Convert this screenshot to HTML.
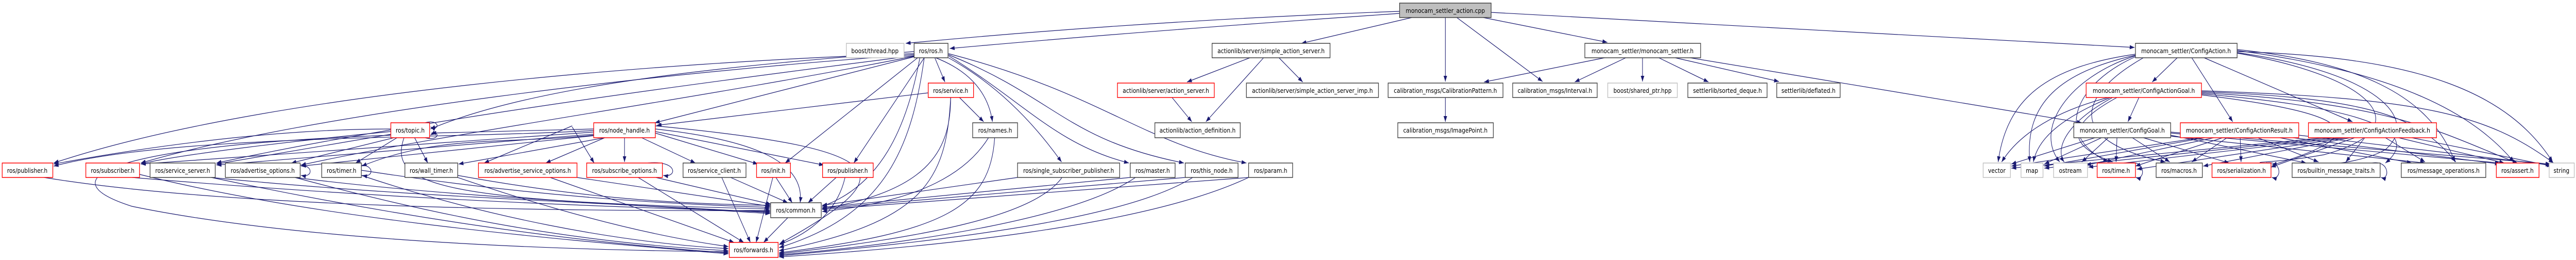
<!DOCTYPE html>
<html><head><meta charset="utf-8">
<meta name="viewport" content="width=5853, initial-scale=1">
<style>
html,body{margin:0;padding:0;background:#fff;width:100%;height:504px;overflow:hidden;}
svg{display:block;width:100vw;height:504px;}
text{font-family:"DejaVu Sans","Liberation Sans",sans-serif;font-size:12.5px;fill:#000;}
.e{fill:none;stroke:#191970;stroke-width:1.2;}
.nb{fill:#fff;stroke:#404040;stroke-width:1.5;}
.nr{fill:#fff;stroke:#ff0000;stroke-width:1.5;}
.ng{fill:#fff;stroke:#bfbfbf;stroke-width:1.5;}
.nm{fill:#bfbfbf;stroke:#404040;stroke-width:1.5;}
</style></head>
<body>
<svg viewBox="0 0 5853 504" preserveAspectRatio="none" xmlns="http://www.w3.org/2000/svg">
<defs>
<marker id="a" markerWidth="11" markerHeight="8" refX="11" refY="4" orient="auto" markerUnits="userSpaceOnUse"><path d="M0,0 L11,4 L0,8z" fill="#191970"/></marker>
</defs>
<g class="e" marker-end="url(#a)">
<path d="M3180,22 Q2600,40 2058,84"/>
<path d="M3180,26 Q2600,60 2158,94"/>
<path d="M3208,34 L2957,84"/>
<path d="M3284,34 L3284,158"/>
<path d="M3310,34 L3505,158"/>
<path d="M3370,34 L3652,82"/>
<path d="M3388,24 L4850,92"/>
<path d="M3646,112 L3372,159"/>
<path d="M3694,112 L3578,159"/>
<path d="M3732,112 L3732,158"/>
<path d="M3769,112 L3882,159"/>
<path d="M3806,112 L4042,158"/>
<path d="M3840,112 L4730,238"/>
<path d="M2840,112 L2697,159"/>
<path d="M2871,112 L2740,236"/>
<path d="M2906,112 L2960,159"/>
<path d="M2663,189 L2708,236"/>
<path d="M3284,189 L3284,236"/>
<path d="M2124,112 L2147,159"/>
<path d="M2126,112 Q2240,150 2255,236"/>
<path d="M2155,112 Q2300,180 2412,314"/>
<path d="M2155,108 C2330,200 2400,280 2565,316"/>
<path d="M2155,106 C2400,190 2420,270 2690,316"/>
<path d="M2155,104 C2500,180 2600,280 2832,316"/>
<path d="M2077,110 L1488,238"/>
<path d="M2085,112 L1784,316"/>
<path d="M2100,112 L1940,316"/>
<path d="M2077,100 C1600,130 1200,170 978,250"/>
<path d="M2090,112 C2060,250 2000,360 1868,400"/>
<path d="M2100,112 C2070,300 2000,420 1770,480"/>
<path d="M2077,104 C1500,120 600,180 122,316"/>
<path d="M2077,106 C1500,140 700,220 320,316"/>
<path d="M2077,108 C1500,170 900,240 492,316"/>
<path d="M2077,109 C1600,190 1000,260 684,320"/>
<path d="M2109,180 L1492,243"/>
<path d="M2180,189 L2235,236"/>
<path d="M2160,189 C2160,300 2100,370 1868,405"/>
<path d="M2160,189 C2150,350 2100,430 1770,486"/>
<path d="M2246,267 C2200,330 2100,390 1868,410"/>
<path d="M2260,267 C2250,400 2150,450 1770,490"/>
<path d="M888,250 C600,250 300,290 122,318"/>
<path d="M888,255 C700,270 400,300 320,318"/>
<path d="M890,260 L492,318"/>
<path d="M895,267 L662,316"/>
<path d="M902,267 L808,316"/>
<path d="M942,267 L972,316"/>
<path d="M918,267 C880,360 1000,390 1750,405"/>
<path d="M890,262 C300,280 80,340 300,400 C700,470 1300,485 1655,488"/>
<path d="M966,238 C1000,230 1000,255 978,246"/>
<path d="M966,267 C1000,275 1000,250 978,262"/>
<path d="M1349,250 L980,258"/>
<path d="M1349,253 C1000,270 400,260 122,322"/>
<path d="M1349,256 L320,318"/>
<path d="M1349,260 L492,320"/>
<path d="M1349,263 L684,322"/>
<path d="M1374,267 L1042,318"/>
<path d="M1349,262 C1150,280 1000,260 822,322"/>
<path d="M1374,267 L1240,316"/>
<path d="M1419,267 L1419,314"/>
<path d="M1458,267 L1580,316"/>
<path d="M1489,258 L1722,318"/>
<path d="M1489,255 L1872,320"/>
<path d="M1489,250 C1700,270 1830,310 1818,393"/>
<path d="M1489,244 C2050,290 2050,340 1772,472"/>
<path d="M1300,244 L1100,316"/>
<path d="M1300,246 L1350,316"/>
<path d="M100,344 C500,400 1200,410 1750,408"/>
<path d="M300,344 C800,380 1300,400 1750,410"/>
<path d="M317,338 C700,420 1200,460 1655,492"/>
<path d="M480,344 C900,380 1300,390 1750,412"/>
<path d="M480,344 C900,420 1300,470 1655,490"/>
<path d="M670,344 C1000,380 1400,395 1750,414"/>
<path d="M670,344 C1000,420 1300,470 1655,486"/>
<path d="M821,330 C1200,380 1500,395 1750,402"/>
<path d="M821,340 C1100,420 1400,470 1655,482"/>
<path d="M1040,340 C1300,380 1500,395 1750,398"/>
<path d="M1040,344 C1300,420 1500,460 1655,478"/>
<path d="M1311,344 L1750,400"/>
<path d="M1250,344 L1668,470"/>
<path d="M1490,344 L1752,396"/>
<path d="M1450,344 L1690,470"/>
<path d="M1660,344 L1790,393"/>
<path d="M1640,344 L1705,470"/>
<path d="M1763,344 L1800,393"/>
<path d="M1756,344 L1718,470"/>
<path d="M1900,344 L1836,393"/>
<path d="M1920,344 C1900,420 1820,460 1770,474"/>
<path d="M2312,344 L1868,398"/>
<path d="M2413,344 C2350,420 2100,460 1770,492"/>
<path d="M2568,344 L1868,402"/>
<path d="M2580,344 C2450,420 2100,470 1770,494"/>
<path d="M2693,344 L1868,404"/>
<path d="M2710,344 C2550,430 2100,470 1770,496"/>
<path d="M2837,344 L1868,406"/>
<path d="M2837,344 C2600,440 2100,480 1770,498"/>
<path d="M1790,422 L1735,470"/>
<path d="M682,320 C712,320 712,345 684,340"/>
<path d="M821,320 C850,320 850,345 823,340"/>
<path d="M1472,316 C1540,310 1540,345 1507,340"/>
<path d="M4947,112 L4890,159"/>
<path d="M4980,112 L5073,236"/>
<path d="M5008,112 L5345,236"/>
<path d="M4852,105 C4650,130 4560,190 4540,314"/>
<path d="M4852,107 C4680,140 4600,200 4612,314"/>
<path d="M4852,108 C4700,150 4620,250 4680,314"/>
<path d="M4852,110 C4720,160 4660,260 4790,314"/>
<path d="M4870,112 C4730,180 4680,270 4920,314"/>
<path d="M5083,96 C5350,120 5520,180 5578,314"/>
<path d="M5083,98 C5450,140 5620,220 5712,314"/>
<path d="M5083,100 C5500,110 5700,180 5800,314"/>
<path d="M5083,103 C5400,150 5500,250 5280,300 C5150,320 5100,310 5160,320"/>
<path d="M5083,102 C5400,140 5500,230 5420,290 C5380,310 5300,320 5300,316"/>
<path d="M4860,189 L4835,236"/>
<path d="M4790,189 C4650,220 4580,270 4548,314"/>
<path d="M4795,189 C4680,230 4630,270 4620,314"/>
<path d="M4800,189 C4690,240 4670,290 4690,314"/>
<path d="M4810,189 C4700,240 4690,280 4800,314"/>
<path d="M5002,178 C5400,190 5500,230 5580,314"/>
<path d="M5002,180 C5450,200 5550,260 5720,316"/>
<path d="M5002,176 C5500,190 5650,220 5802,316"/>
<path d="M5002,182 C5400,210 5500,260 5420,316"/>
<path d="M5002,184 C5350,220 5400,260 5162,320"/>
<path d="M4760,267 L4570,318"/>
<path d="M4775,267 L4645,318"/>
<path d="M4790,267 L4730,314"/>
<path d="M4810,267 L4808,314"/>
<path d="M4845,267 L4930,314"/>
<path d="M4870,267 L5065,316"/>
<path d="M4932,262 L5240,316"/>
<path d="M4932,264 L5510,316"/>
<path d="M4932,258 L5680,316"/>
<path d="M4932,256 L5795,318"/>
<path d="M5000,267 L4570,322"/>
<path d="M5010,267 L4645,322"/>
<path d="M5030,267 L4740,320"/>
<path d="M5050,267 L4852,322"/>
<path d="M5060,267 L4980,314"/>
<path d="M5090,267 L5092,314"/>
<path d="M5130,267 L5268,314"/>
<path d="M5180,267 L5480,316"/>
<path d="M5210,267 L5680,318"/>
<path d="M5223,262 L5795,320"/>
<path d="M5280,267 L4570,326"/>
<path d="M5300,267 L4645,326"/>
<path d="M5320,267 L4745,324"/>
<path d="M5330,267 L4855,328"/>
<path d="M5340,267 L5006,322"/>
<path d="M5350,267 L5160,324"/>
<path d="M5373,267 L5330,314"/>
<path d="M5420,267 L5510,314"/>
<path d="M5450,267 L5690,316"/>
<path d="M5480,267 L5798,322"/>
<path d="M4840,316 C4875,310 4875,350 4853,344"/>
<path d="M5150,316 C5185,310 5185,350 5162,344"/>
<path d="M5390,316 C5430,310 5430,350 5410,344"/>
</g>

<g>
<rect class="nm" x="3180" y="6" width="208" height="28"/><text x="3284" y="25" text-anchor="middle">monocam_settler_action.cpp</text>
<rect class="ng" x="1923" y="84" width="131" height="28"/><text x="1988" y="103" text-anchor="middle">boost/thread.hpp</text>
<rect class="nb" x="2077" y="84" width="77" height="28"/><text x="2115" y="103" text-anchor="middle">ros/ros.h</text>
<rect class="nb" x="2754" y="84" width="268" height="28"/><text x="2888" y="103" text-anchor="middle">actionlib/server/simple_action_server.h</text>
<rect class="nb" x="3601" y="84" width="263" height="28"/><text x="3732" y="103" text-anchor="middle">monocam_settler/monocam_settler.h</text>
<rect class="nb" x="4852" y="84" width="231" height="28"/><text x="4967" y="103" text-anchor="middle">monocam_settler/ConfigAction.h</text>
<rect class="nr" x="2109" y="161" width="103" height="28"/><text x="2160" y="180" text-anchor="middle">ros/service.h</text>
<rect class="nr" x="2539" y="161" width="220" height="28"/><text x="2649" y="180" text-anchor="middle">actionlib/server/action_server.h</text>
<rect class="nb" x="2832" y="161" width="300" height="28"/><text x="2982" y="180" text-anchor="middle">actionlib/server/simple_action_server_imp.h</text>
<rect class="nb" x="3154" y="161" width="261" height="28"/><text x="3284" y="180" text-anchor="middle">calibration_msgs/CalibrationPattern.h</text>
<rect class="nb" x="3437" y="161" width="192" height="28"/><text x="3533" y="180" text-anchor="middle">calibration_msgs/Interval.h</text>
<rect class="ng" x="3653" y="161" width="158" height="28"/><text x="3732" y="180" text-anchor="middle">boost/shared_ptr.hpp</text>
<rect class="nb" x="3835" y="161" width="180" height="28"/><text x="3925" y="180" text-anchor="middle">settlerlib/sorted_deque.h</text>
<rect class="nb" x="4037" y="161" width="144" height="28"/><text x="4109" y="180" text-anchor="middle">settlerlib/deflated.h</text>
<rect class="nr" x="4740" y="161" width="262" height="28"/><text x="4871" y="180" text-anchor="middle">monocam_settler/ConfigActionGoal.h</text>
<rect class="nr" x="888" y="238" width="88" height="29"/><text x="932" y="257" text-anchor="middle">ros/topic.h</text>
<rect class="nr" x="1349" y="238" width="140" height="29"/><text x="1419" y="257" text-anchor="middle">ros/node_handle.h</text>
<rect class="nb" x="2210" y="238" width="102" height="29"/><text x="2261" y="257" text-anchor="middle">ros/names.h</text>
<rect class="nb" x="2624" y="238" width="194" height="29"/><text x="2721" y="257" text-anchor="middle">actionlib/action_definition.h</text>
<rect class="nb" x="3176" y="238" width="217" height="29"/><text x="3284" y="257" text-anchor="middle">calibration_msgs/ImagePoint.h</text>
<rect class="nb" x="4712" y="238" width="220" height="29"/><text x="4822" y="257" text-anchor="middle">monocam_settler/ConfigGoal.h</text>
<rect class="nr" x="4954" y="238" width="269" height="29"/><text x="5088" y="257" text-anchor="middle">monocam_settler/ConfigActionResult.h</text>
<rect class="nr" x="5245" y="238" width="291" height="29"/><text x="5390" y="257" text-anchor="middle">monocam_settler/ConfigActionFeedback.h</text>
<rect class="nr" x="5" y="316" width="115" height="28"/><text x="62" y="335" text-anchor="middle">ros/publisher.h</text>
<rect class="nr" x="195" y="316" width="122" height="28"/><text x="256" y="335" text-anchor="middle">ros/subscriber.h</text>
<rect class="nb" x="341" y="316" width="148" height="28"/><text x="415" y="335" text-anchor="middle">ros/service_server.h</text>
<rect class="nb" x="512" y="316" width="170" height="28"/><text x="597" y="335" text-anchor="middle">ros/advertise_options.h</text>
<rect class="nb" x="731" y="316" width="90" height="28"/><text x="776" y="335" text-anchor="middle">ros/timer.h</text>
<rect class="nb" x="920" y="316" width="120" height="28"/><text x="980" y="335" text-anchor="middle">ros/wall_timer.h</text>
<rect class="nr" x="1087" y="316" width="224" height="28"/><text x="1199" y="335" text-anchor="middle">ros/advertise_service_options.h</text>
<rect class="nr" x="1333" y="316" width="172" height="28"/><text x="1419" y="335" text-anchor="middle">ros/subscribe_options.h</text>
<rect class="nb" x="1552" y="316" width="143" height="28"/><text x="1623" y="335" text-anchor="middle">ros/service_client.h</text>
<rect class="nr" x="1719" y="316" width="77" height="28"/><text x="1757" y="335" text-anchor="middle">ros/init.h</text>
<rect class="nr" x="1869" y="316" width="115" height="28"/><text x="1926" y="335" text-anchor="middle">ros/publisher.h</text>
<rect class="nb" x="2312" y="316" width="232" height="28"/><text x="2428" y="335" text-anchor="middle">ros/single_subscriber_publisher.h</text>
<rect class="nb" x="2568" y="316" width="102" height="28"/><text x="2619" y="335" text-anchor="middle">ros/master.h</text>
<rect class="nb" x="2693" y="316" width="120" height="28"/><text x="2753" y="335" text-anchor="middle">ros/this_node.h</text>
<rect class="nb" x="2837" y="316" width="100" height="28"/><text x="2887" y="335" text-anchor="middle">ros/param.h</text>
<rect class="ng" x="4506" y="316" width="62" height="28"/><text x="4537" y="335" text-anchor="middle">vector</text>
<rect class="ng" x="4592" y="316" width="50" height="28"/><text x="4617" y="335" text-anchor="middle">map</text>
<rect class="ng" x="4666" y="316" width="77" height="28"/><text x="4704" y="335" text-anchor="middle">ostream</text>
<rect class="nr" x="4765" y="316" width="87" height="28"/><text x="4808" y="335" text-anchor="middle">ros/time.h</text>
<rect class="nb" x="4899" y="316" width="105" height="28"/><text x="4951" y="335" text-anchor="middle">ros/macros.h</text>
<rect class="nr" x="5026" y="316" width="134" height="28"/><text x="5093" y="335" text-anchor="middle">ros/serialization.h</text>
<rect class="nb" x="5208" y="316" width="200" height="28"/><text x="5308" y="335" text-anchor="middle">ros/builtin_message_traits.h</text>
<rect class="nb" x="5456" y="316" width="192" height="28"/><text x="5552" y="335" text-anchor="middle">ros/message_operations.h</text>
<rect class="nr" x="5672" y="316" width="97" height="28"/><text x="5720" y="335" text-anchor="middle">ros/assert.h</text>
<rect class="ng" x="5792" y="316" width="57" height="28"/><text x="5820" y="335" text-anchor="middle">string</text>
<rect class="nb" x="1751" y="393" width="115" height="29"/><text x="1808" y="412" text-anchor="middle">ros/common.h</text>
<rect class="nr" x="1657" y="470" width="111" height="29"/><text x="1712" y="489" text-anchor="middle">ros/forwards.h</text>
</g>
</svg>
</body></html>
